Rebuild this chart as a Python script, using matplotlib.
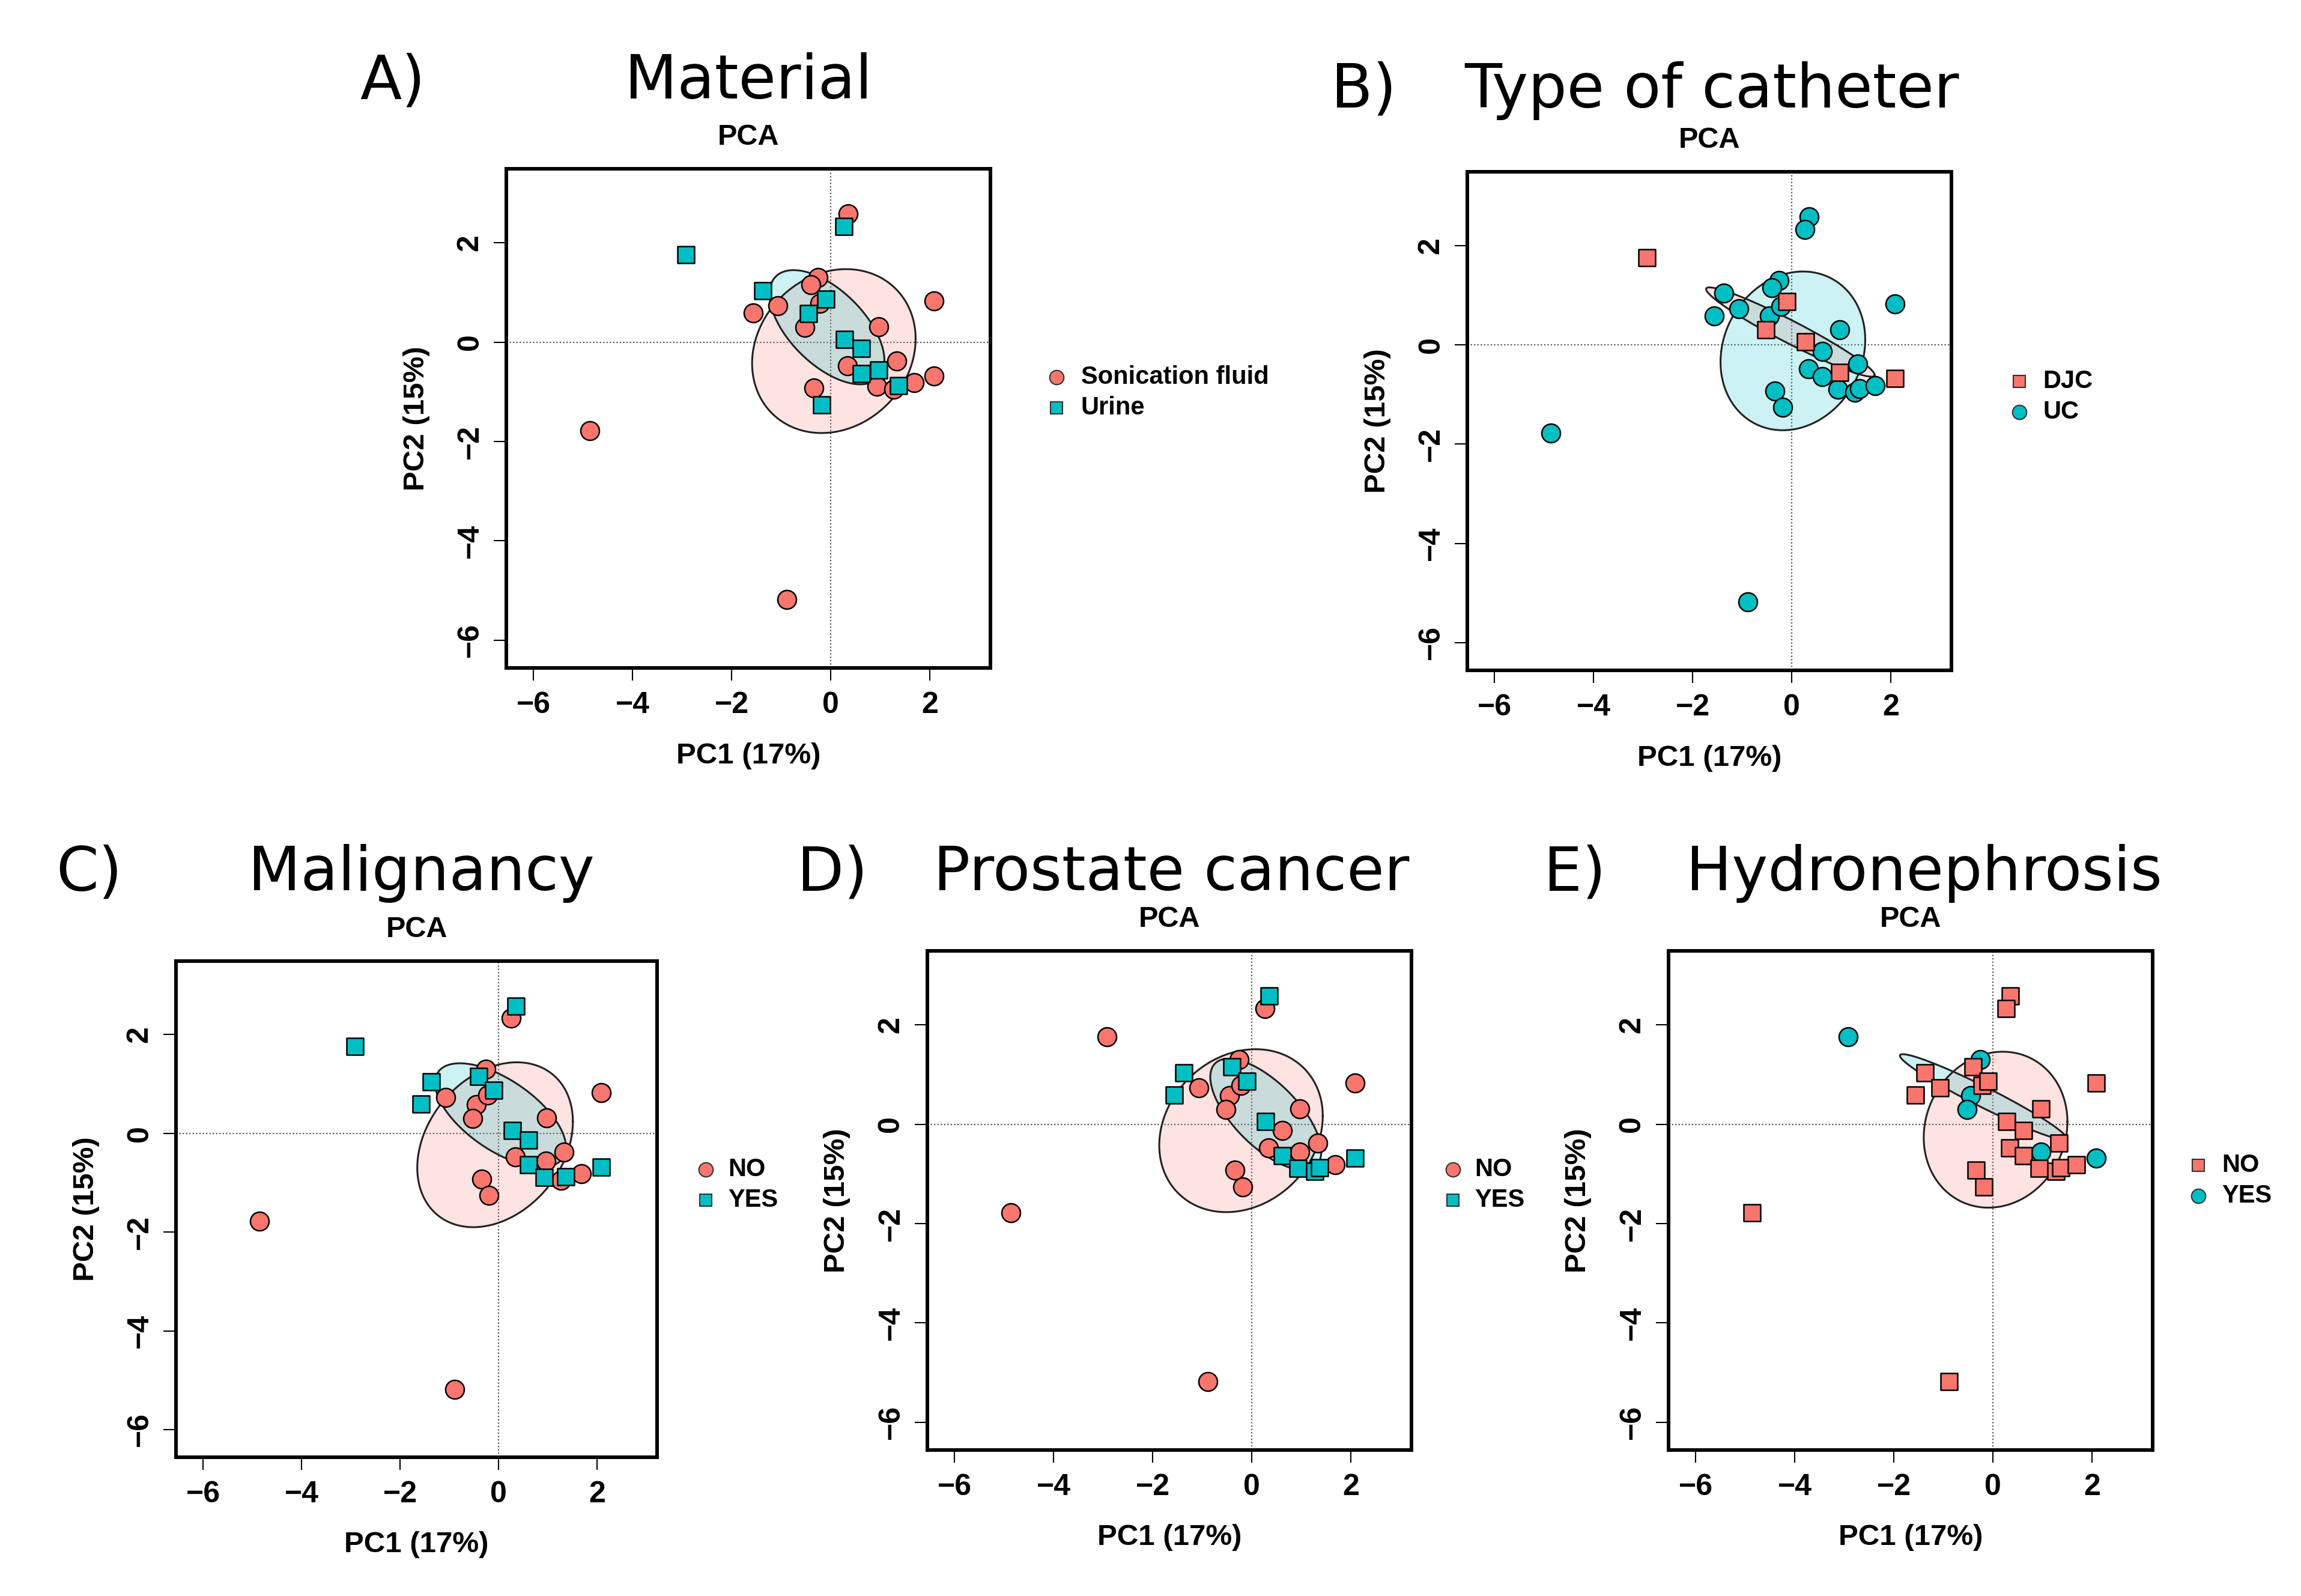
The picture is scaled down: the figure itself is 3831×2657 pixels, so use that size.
import numpy as np
import matplotlib.pyplot as plt
from matplotlib.lines import Line2D

# PCA scores of the 29 samples (same in every panel)
pc1 = [0.35, 0.26, -2.92, -4.86, -0.89, -0.26, -0.40, -1.37, -1.07, -1.57,
       -0.45, -0.22, -0.10, -0.53, 0.97, 2.08, 0.28, 0.61, 1.33, 0.34,
       0.61, 0.96, -0.34, -0.19, 0.93, 1.27, 1.36, 1.68, 2.08]
pc2 = [2.58, 2.33, 1.76, -1.78, -5.18, 1.30, 1.15, 1.04, 0.73, 0.59,
       0.58, 0.78, 0.87, 0.30, 0.31, 0.83, 0.06, -0.13, -0.38, -0.48,
       -0.64, -0.56, -0.93, -1.26, -0.89, -0.95, -0.88, -0.82, -0.68]

# group of each sample (0 = first level, 1 = second level)
material = [0, 1, 1, 0, 0, 0, 0, 1, 0, 0, 1, 0, 1, 0, 0, 0, 1, 1, 0, 0,
            1, 1, 0, 1, 0, 0, 1, 0, 0]
catheter = [1, 1, 0, 1, 1, 1, 1, 1, 1, 1, 1, 1, 0, 0, 1, 1, 0, 1, 1, 1,
            1, 0, 1, 1, 1, 1, 1, 1, 0]
malignancy = [1, 0, 1, 0, 0, 0, 1, 1, 0, 1, 0, 0, 1, 0, 0, 0, 1, 1, 0, 0,
              1, 0, 0, 0, 1, 0, 1, 0, 1]
prostate = [1, 0, 0, 0, 0, 0, 1, 1, 0, 1, 0, 0, 1, 0, 0, 0, 1, 0, 0, 0,
            1, 0, 0, 0, 1, 1, 1, 0, 1]
hydro = [0, 0, 1, 0, 0, 1, 0, 0, 0, 0, 1, 0, 0, 1, 0, 0, 0, 0, 0, 0,
         0, 1, 0, 0, 0, 0, 0, 0, 1]

# confidence ellipses: centre x, centre y, half width, half height, tilt
ell_material = [(0.06, -0.18, 1.65, 1.65, 0.15), (-0.08, 0.30, 1.16, 1.15, -0.58)]
ell_catheter = [(-0.03, 0.26, 1.70, 0.90, -0.96), (0.02, -0.12, 1.46, 1.60, 0.14)]
ell_malignancy = [(-0.07, -0.23, 1.58, 1.67, 0.28), (0.04, 0.37, 1.33, 1.05, -0.62)]
ell_prostate = [(-0.22, -0.13, 1.65, 1.64, 0.18), (0.28, 0.20, 1.12, 1.12, -0.67)]
ell_hydro = [(0.05, -0.11, 1.45, 1.57, 0.10), (-0.20, 0.55, 1.68, 0.86, -0.965)]

W, H = 3831, 2657
red = '#F8766D'
teal = '#00BFC4'
lab_font = 'Liberation Sans'

# letter, title, groups, levels, markers, ellipses, box (l, r, t, b px), letter x/baseline, title x/baseline, legend (marker x, text x, y1, y2)
panels = [
    ('A)', 'Material', material, ['Sonication fluid', 'Urine'], ['o', 's'], ell_material,
     (843, 1649, 281, 1112), (599, 164), (1246, 164), (1759, 1800, 628, 679)),
    ('B)', 'Type of catheter', catheter, ['DJC', 'UC'], ['s', 'o'], ell_catheter,
     (2443, 3249, 286, 1116), (2216, 179), (2850, 179), (3362, 3401, 635, 686)),
    ('C)', 'Malignancy', malignancy, ['NO', 'YES'], ['o', 's'], ell_malignancy,
     (293, 1094, 1600, 2426), (93, 1482), (701, 1482), (1175, 1212, 1947, 1998)),
    ('D)', 'Prostate cancer', prostate, ['NO', 'YES'], ['o', 's'], ell_prostate,
     (1544, 2350, 1583, 2414), (1327, 1482), (1950, 1482), (2419, 2455, 1947, 1998)),
    ('E)', 'Hydronephrosis', hydro, ['NO', 'YES'], ['s', 'o'], ell_hydro,
     (2778, 3584, 1583, 2414), (2570, 1482), (3203, 1482), (3660, 3699, 1940, 1991)),
]

x = np.array(pc1)
y = np.array(pc2)
t = np.linspace(0, 2 * np.pi, 300)

fig = plt.figure(figsize=(W / 100, H / 100), dpi=100)

for letter, title, grp, levels, mk, ells, box, lpos, tpos, leg in panels:
    l, r, top, b = box
    ax = fig.add_axes([l / W, 1 - b / H, (r - l) / W, (b - top) / H])
    grp = np.array(grp)
    cols = [red, teal]

    ax.axhline(0, color='#555555', lw=1.6, ls=(0, (1, 1.5)), zorder=1)
    ax.axvline(0, color='#555555', lw=1.6, ls=(0, (1, 1.5)), zorder=1)

    # ellipses
    for k, (cx, cy, hx, hy, rho) in enumerate(ells):
        ex = cx + hx * np.cos(t)
        ey = cy + hy * (rho * np.cos(t) + np.sqrt(1 - rho ** 2) * np.sin(t))
        ax.fill(ex, ey, color=cols[k], alpha=0.2, lw=0, zorder=2)
        ax.plot(ex, ey, color='#222222', lw=2.2, zorder=3)

    # circles first, squares on top
    order = [k for k in (0, 1) if mk[k] == 'o'] + [k for k in (0, 1) if mk[k] == 's']
    for k in order:
        sel = grp == k
        size = 500 if mk[k] == 'o' else 400
        ax.scatter(x[sel], y[sel], s=size, marker=mk[k], c=cols[k],
                   edgecolors='black', linewidths=1.8, zorder=4)

    ax.set_xlim(-6.55, 3.22)
    ax.set_ylim(-6.56, 3.49)
    ax.set_xticks([-6, -4, -2, 0, 2])
    ax.set_yticks([-6, -4, -2, 0, 2])
    ax.tick_params(direction='out', length=15, width=1.5, labelsize=36, pad=13)
    ax.tick_params(axis='y', labelrotation=90, pad=12)
    for lab in ax.get_xticklabels() + ax.get_yticklabels():
        lab.set_fontfamily(lab_font)
        lab.set_fontweight('bold')
    plt.setp(ax.get_yticklabels(), va='center')
    for s in ax.spines.values():
        s.set_linewidth(4.3)

    ax.set_title('PCA', fontsize=35, fontweight='bold', family=lab_font, pad=29)
    ax.set_xlabel('PC1 (17%)', fontsize=35.5, fontweight='bold', family=lab_font)
    ax.set_ylabel('PC2 (15%)', fontsize=35.5, fontweight='bold', family=lab_font)
    ax.xaxis.set_label_coords(0.5, -146 / (b - top))
    ax.xaxis.label.set_va('center')
    ax.yaxis.set_label_coords(-150 / (r - l), 0.5)
    ax.yaxis.label.set_va('center')

    # panel letter and big title
    fig.text(lpos[0] / W, 1 - lpos[1] / H, letter, fontsize=73, family='DejaVu Sans',
             ha='left', va='baseline')
    fig.text(tpos[0] / W, 1 - tpos[1] / H, title, fontsize=73, family='DejaVu Sans',
             ha='center', va='baseline')

    # legend
    mx, tx, y1, y2 = leg
    for k, yy in enumerate((y1, y2)):
        fig.add_artist(Line2D([mx / W], [1 - yy / H], marker=mk[k], ms=17 if mk[k] == 'o' else 15,
                              mfc=cols[k], mec='#333333', mew=1.5, ls='none',
                              transform=fig.transFigure))
        fig.text(tx / W, 1 - yy / H, levels[k], fontsize=30, fontweight='bold',
                 family=lab_font, ha='left', va='center')

fig.savefig('out.png', dpi=100, facecolor='white')
